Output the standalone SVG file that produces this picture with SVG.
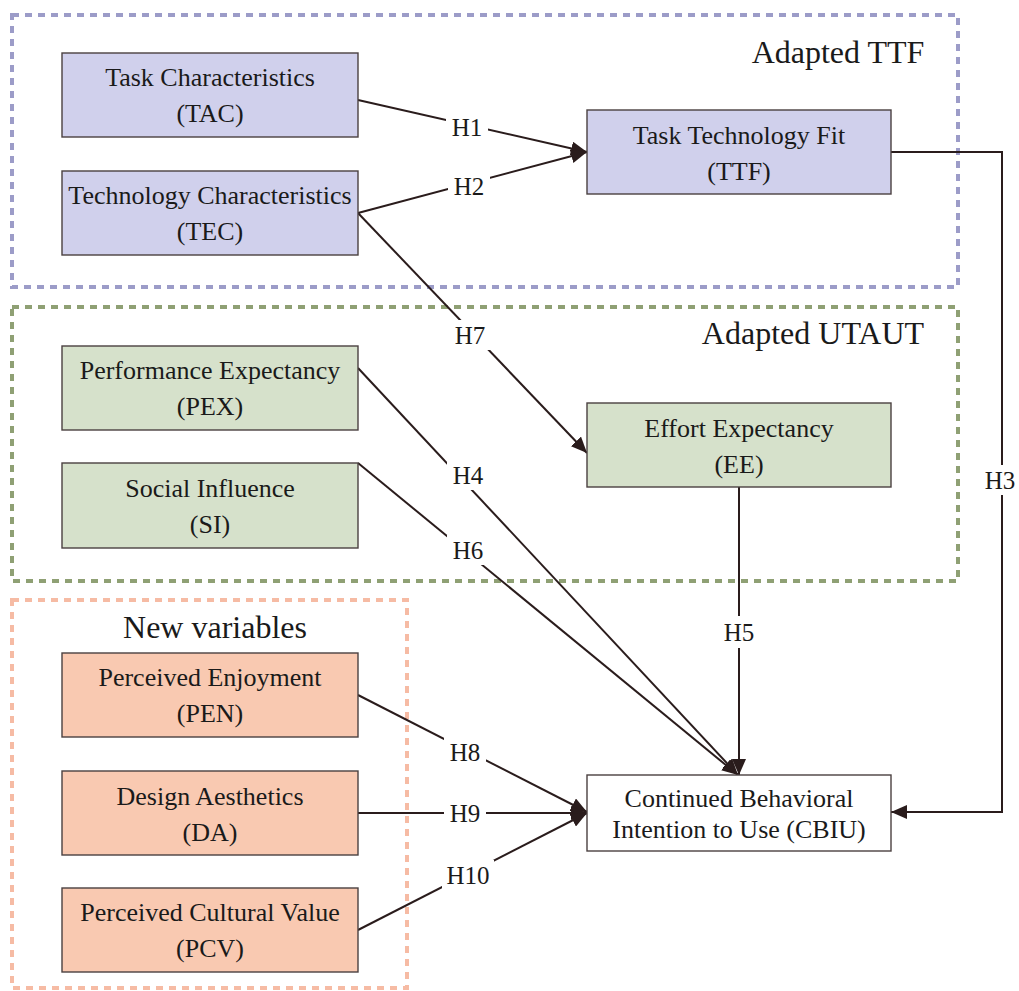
<svg xmlns="http://www.w3.org/2000/svg" width="1019" height="991" viewBox="0 0 1019 991">
<defs>
<style>
text{font-family:"Liberation Serif","Times New Roman",serif;fill:#1a1a1a}
.t{font-size:26px;text-anchor:middle}
.h{font-size:25px;text-anchor:middle;dominant-baseline:central}
.title{font-size:32px;text-anchor:middle}
.box{stroke:#4a4040;stroke-width:1.4}
.p{fill:#d0d0ec}.g{fill:#d6e1cb}.o{fill:#f9c9b1}.w{fill:#ffffff}
.grp{fill:none;stroke-width:4;stroke-dasharray:7 6}
.c{fill:none;stroke:#2a1c1c;stroke-width:2}
.lb{fill:#ffffff}
</style>
<marker id="ah" markerUnits="userSpaceOnUse" markerWidth="18" markerHeight="14" refX="16" refY="7" orient="auto">
<path d="M0,0 L16,7 L0,14 Z" fill="#2a1c1c"/>
</marker>
</defs>
<rect width="1019" height="991" fill="#ffffff"/>
<g id="groups">
<rect class="grp" x="12" y="15" width="946" height="272" stroke="#9c9cc8"/>
<rect class="grp" x="12" y="307" width="946" height="274" stroke="#8fa074"/>
<rect class="grp" x="12" y="600" width="395" height="388" stroke="#f6bba4"/>
<text class="title" x="838" y="63">Adapted TTF</text>
<text class="title" x="813" y="344">Adapted UTAUT</text>
<text class="title" x="215" y="638">New variables</text>
</g>
<g id="connectors">
<line class="c" x1="358" y1="100" x2="587" y2="152" marker-end="url(#ah)"/>
<line class="c" x1="358" y1="213" x2="587" y2="152" marker-end="url(#ah)"/>
<line class="c" x1="358" y1="213" x2="587" y2="453" marker-end="url(#ah)"/>
<polyline class="c" points="891,152 1002,152 1002,812 891,812" marker-end="url(#ah)"/>
<line class="c" x1="358" y1="368" x2="738" y2="775" marker-end="url(#ah)"/>
<line class="c" x1="358" y1="463" x2="738" y2="775" marker-end="url(#ah)"/>
<line class="c" x1="739" y1="487" x2="739" y2="775" marker-end="url(#ah)"/>
<line class="c" x1="358" y1="695" x2="587" y2="812" marker-end="url(#ah)"/>
<line class="c" x1="358" y1="813" x2="587" y2="813" marker-end="url(#ah)"/>
<line class="c" x1="358" y1="930" x2="587" y2="813" marker-end="url(#ah)"/>
<rect class="lb" x="446" y="112" width="42" height="30"/>
<text class="h" x="467" y="127">H1</text>
<rect class="lb" x="448" y="171" width="42" height="30"/>
<text class="h" x="469" y="186">H2</text>
<rect class="lb" x="449" y="320" width="42" height="30"/>
<text class="h" x="470" y="335">H7</text>
<rect class="lb" x="980" y="465" width="42" height="30"/>
<text class="h" x="1000" y="480">H3</text>
<rect class="lb" x="447" y="460" width="42" height="30"/>
<text class="h" x="468" y="475">H4</text>
<rect class="lb" x="447" y="535" width="42" height="30"/>
<text class="h" x="468" y="550">H6</text>
<rect class="lb" x="718" y="616" width="42" height="32"/>
<text class="h" x="739" y="632">H5</text>
<rect class="lb" x="444" y="737" width="42" height="30"/>
<text class="h" x="465" y="752">H8</text>
<rect class="lb" x="444" y="798" width="42" height="30"/>
<text class="h" x="465" y="813">H9</text>
<rect class="lb" x="442" y="860" width="52" height="30"/>
<text class="h" x="468" y="875">H10</text>
</g>
<g id="TAC"><rect class="box p" x="62" y="53" width="296" height="84"/><text class="t" x="210" y="86">Task Characteristics</text><text class="t" x="210" y="122">(TAC)</text></g>
<g id="TEC"><rect class="box p" x="62" y="171" width="296" height="84"/><text class="t" x="210" y="204">Technology Characteristics</text><text class="t" x="210" y="240">(TEC)</text></g>
<g id="TTF"><rect class="box p" x="587" y="110" width="304" height="84"/><text class="t" x="739" y="144">Task Technology Fit</text><text class="t" x="739" y="180">(TTF)</text></g>
<g id="PEX"><rect class="box g" x="62" y="346" width="296" height="84"/><text class="t" x="210" y="379">Performance Expectancy</text><text class="t" x="210" y="415">(PEX)</text></g>
<g id="SI"><rect class="box g" x="62" y="463" width="296" height="85"/><text class="t" x="210" y="497">Social Influence</text><text class="t" x="210" y="533">(SI)</text></g>
<g id="EE"><rect class="box g" x="587" y="403" width="304" height="84"/><text class="t" x="739" y="437">Effort Expectancy</text><text class="t" x="739" y="473">(EE)</text></g>
<g id="PEN"><rect class="box o" x="62" y="653" width="296" height="84"/><text class="t" x="210" y="686">Perceived Enjoyment</text><text class="t" x="210" y="722">(PEN)</text></g>
<g id="DA"><rect class="box o" x="62" y="771" width="296" height="84"/><text class="t" x="210" y="805">Design Aesthetics</text><text class="t" x="210" y="841">(DA)</text></g>
<g id="PCV"><rect class="box o" x="62" y="888" width="296" height="84"/><text class="t" x="210" y="921">Perceived Cultural Value</text><text class="t" x="210" y="957">(PCV)</text></g>
<g id="CBIU"><rect class="box w" x="587" y="775" width="304" height="76"/><text class="t" x="739" y="807">Continued Behavioral</text><text class="t" x="739" y="838">Intention to Use (CBIU)</text></g>
</svg>
